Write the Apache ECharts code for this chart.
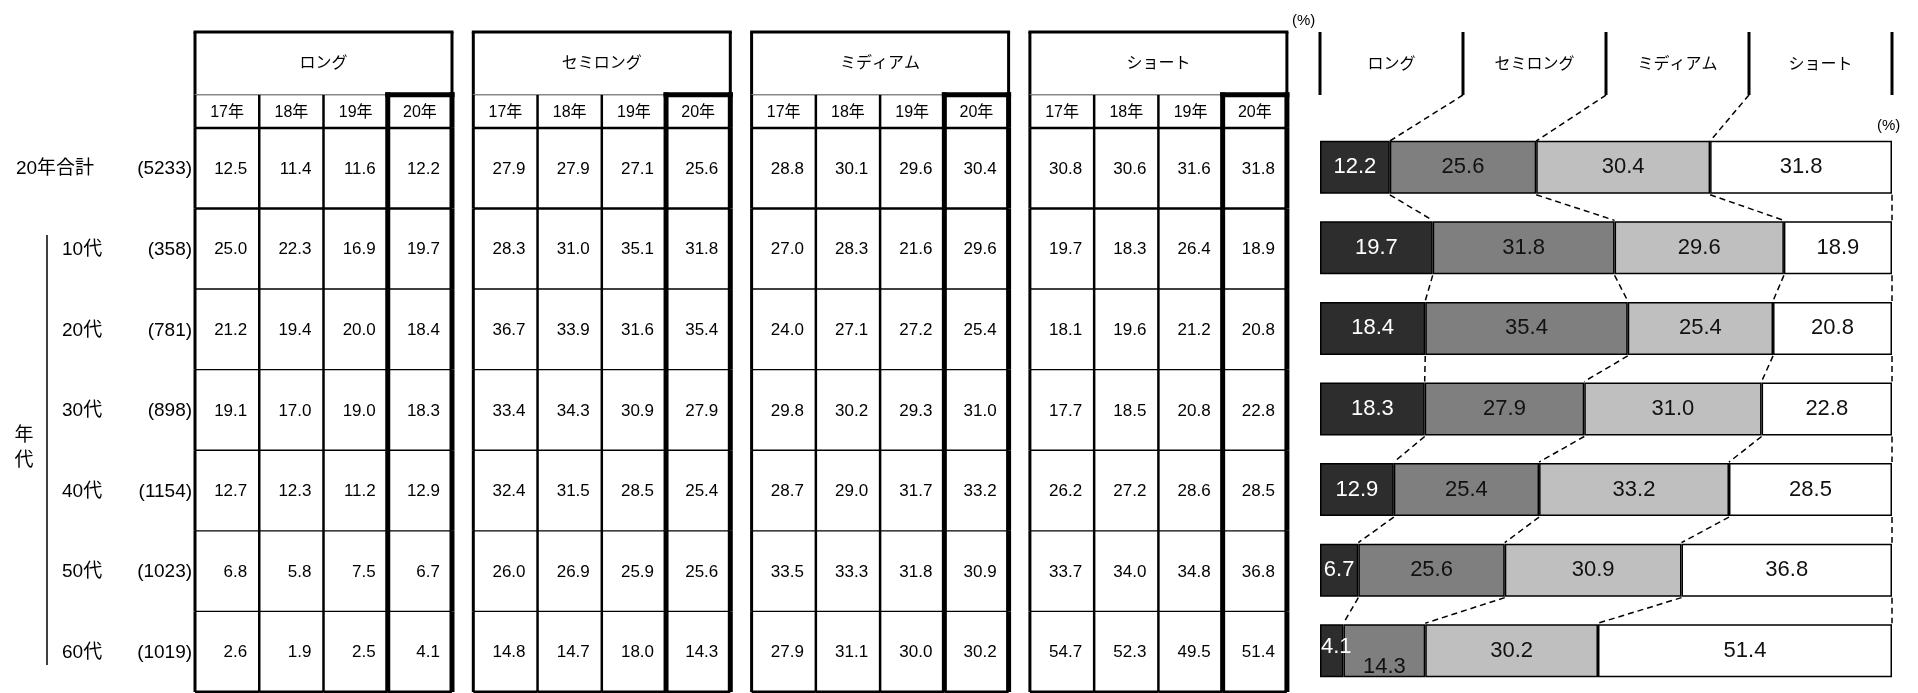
<!DOCTYPE html>
<html>
<head>
<meta charset="UTF-8"/>
<script src="https://cdn.jsdelivr.net/npm/echarts@6/dist/echarts.min.js"></script>
<style type="text/css">
	html, body { margin:0; padding:0; background:#fff; }
	#main { width:1918px; height:693px; }
</style>
</head>
<body>
<div id="main"></div>
<script type="text/javascript">
// ---- data ----
var years = ['17年', '18年', '19年', '20年'];
var styleNames = ['ロング', 'セミロング', 'ミディアム', 'ショート'];
var rowNames = ['20年合計', '10代', '20代', '30代', '40代', '50代', '60代'];
var rowCounts = ['(5233)', '(358)', '(781)', '(898)', '(1154)', '(1023)', '(1019)'];

// rows = rowNames, columns = years
var longVals = [
	[12.5, 11.4, 11.6, 12.2],
	[25.0, 22.3, 16.9, 19.7],
	[21.2, 19.4, 20.0, 18.4],
	[19.1, 17.0, 19.0, 18.3],
	[12.7, 12.3, 11.2, 12.9],
	[6.8, 5.8, 7.5, 6.7],
	[2.6, 1.9, 2.5, 4.1]
];
var semiLongVals = [
	[27.9, 27.9, 27.1, 25.6],
	[28.3, 31.0, 35.1, 31.8],
	[36.7, 33.9, 31.6, 35.4],
	[33.4, 34.3, 30.9, 27.9],
	[32.4, 31.5, 28.5, 25.4],
	[26.0, 26.9, 25.9, 25.6],
	[14.8, 14.7, 18.0, 14.3]
];
var mediumVals = [
	[28.8, 30.1, 29.6, 30.4],
	[27.0, 28.3, 21.6, 29.6],
	[24.0, 27.1, 27.2, 25.4],
	[29.8, 30.2, 29.3, 31.0],
	[28.7, 29.0, 31.7, 33.2],
	[33.5, 33.3, 31.8, 30.9],
	[27.9, 31.1, 30.0, 30.2]
];
var shortVals = [
	[30.8, 30.6, 31.6, 31.8],
	[19.7, 18.3, 26.4, 18.9],
	[18.1, 19.6, 21.2, 20.8],
	[17.7, 18.5, 20.8, 22.8],
	[26.2, 27.2, 28.6, 28.5],
	[33.7, 34.0, 34.8, 36.8],
	[54.7, 52.3, 49.5, 51.4]
];
var allVals = [longVals, semiLongVals, mediumVals, shortVals];
var barColors = ['#2d2d2d', '#7f7f7f', '#bfbfbf', '#ffffff'];

var FONT = '"Liberation Sans", Arial, "Noto Sans CJK JP", sans-serif';
// table rows: header from HEAD_TOP to YEAR_TOP, year row from YEAR_TOP to 0, data rows 0..7
var HEAD_TOP = -1.19, YEAR_TOP = -0.41;
var BAR_HALF = 26.5;
var HEAD_LINE_END = 0.578;

function vline(x, y1, y2, w, color) {
	return { type:'line', shape:{ x1:x, y1:y1, x2:x, y2:y2 }, style:{ stroke:color || '#000', lineWidth:w } };
}
function hline(y, x1, x2, w, color) {
	return { type:'line', shape:{ x1:x1, y1:y, x2:x2, y2:y }, style:{ stroke:color || '#000', lineWidth:w } };
}
function txt(s, x, y, size, align, color) {
	return { type:'text', z2:5, style:{ text:s, x:x, y:y, align:align || 'center', verticalAlign:'middle',
		fontSize:size, fontFamily:FONT, fill:color || '#000' } };
}
function leftW(c) { return c === 0 ? 3 : (c === 3 ? 5 : 2.5); }

// ---- layout of the 4 tables ----
var grids = [], xAxes = [], yAxes = [], series = [];
for (var t = 0; t < 4; t++) {
	grids.push({ left:195 + t * 278.3, width:257, top:32, height:660 });
	xAxes.push({ gridIndex:t, type:'value', min:0, max:4, show:false });
	yAxes.push({ gridIndex:t, type:'value', min:HEAD_TOP, max:7, inverse:true, show:false });
}
// label grid (4), bar grid (5), bar header grid (6)
grids.push({ left:0, width:195, top:32, height:660 });
xAxes.push({ gridIndex:4, type:'value', min:0, max:1, show:false });
yAxes.push({ gridIndex:4, type:'value', min:HEAD_TOP, max:7, inverse:true, show:false });
grids.push({ left:1320, width:572, top:127, height:564 });
xAxes.push({ gridIndex:5, type:'value', min:0, max:100, show:false });
yAxes.push({ gridIndex:5, type:'category', data:rowNames, inverse:true, show:false });
grids.push({ left:1320, width:572, top:32, height:109 });
xAxes.push({ gridIndex:6, type:'value', min:0, max:100, show:false });
yAxes.push({ gridIndex:6, type:'value', min:0, max:1, inverse:true, show:false });

// ---- tables ----
styleNames.forEach(function(name, t) {
	var vals = allVals[t];
	// header cell
	series.push({
		type:'custom', xAxisIndex:t, yAxisIndex:t, silent:true,
		data:[[0, HEAD_TOP]],
		renderItem:function(params, api) {
			var p0 = api.coord([0, HEAD_TOP]), p1 = api.coord([4, YEAR_TOP]);
			return { type:'group', children:[
				hline(p0[1], p0[0] - 1.5, p1[0] + 1.5, 3),
				vline(p0[0], p0[1], p1[1], 3),
				vline(p1[0], p0[1], p1[1], 3),
				txt(name, (p0[0] + p1[0]) / 2, (p0[1] + p1[1]) / 2, 16)
			] };
		}
	});
	// year cells
	series.push({
		type:'custom', xAxisIndex:t, yAxisIndex:t, silent:true,
		data:years.map(function(y, c) { return [c, YEAR_TOP]; }),
		renderItem:function(params, api) {
			var c = params.dataIndex;
			var p0 = api.coord([c, YEAR_TOP]), p1 = api.coord([c + 1, 0]);
			var ch = [];
			ch.push(hline(p1[1], p0[0], p1[0], 2.5));
			if (c === 3) {
				ch.push(vline(p1[0], p0[1] - 2.5, p1[1], 5));
				ch.push(hline(p0[1], p0[0] - 2.5, p1[0] + 2.5, 5));
			} else {
				ch.push(hline(p0[1], p0[0], p1[0], 1.5, '#888'));
			}
			ch.push(vline(p0[0], p0[1] - (c === 3 ? 2.5 : 0), p1[1], leftW(c)));
			ch.push(txt(years[c], (p0[0] + p1[0]) / 2, (p0[1] + p1[1]) / 2 + 1, 16));
			return { type:'group', children:ch };
		}
	});
	// value cells
	var cells = [];
	vals.forEach(function(row, r) {
		row.forEach(function(v, c) { cells.push([c, r, v]); });
	});
	series.push({
		type:'custom', xAxisIndex:t, yAxisIndex:t, silent:true,
		data:cells,
		renderItem:function(params, api) {
			var c = api.value(0), r = api.value(1), v = api.value(2);
			var p0 = api.coord([c, r]), p1 = api.coord([c + 1, r + 1]);
			var ch = [];
			ch.push(hline(p1[1], p0[0], p1[0], r === 0 ? 2.5 : (r === 6 ? 3 : 1.4)));
			ch.push(vline(p0[0], p0[1], p1[1], leftW(c)));
			if (c === 3) ch.push(vline(p1[0], p0[1], p1[1], 5));
			ch.push(txt(v.toFixed(1), p1[0] - 12, (p0[1] + p1[1]) / 2 + 1, 17, 'right'));
			return { type:'group', children:ch };
		}
	});
});

// ---- row labels ----
series.push({
	type:'custom', xAxisIndex:4, yAxisIndex:4, silent:true,
	data:rowNames.map(function(n, r) { return [0, r]; }),
	renderItem:function(params, api) {
		var r = params.dataIndex;
		var pn = api.coord([r === 0 ? 0.082 : 0.318, r + 0.5]);
		var pc = api.coord([0.985, r + 0.5]);
		return { type:'group', children:[
			txt(rowNames[r], pn[0], pn[1] + 1, 19, 'left'),
			txt(rowCounts[r], pc[0], pc[1] + 1, 19, 'right')
		] };
	}
});
series.push({
	type:'custom', xAxisIndex:4, yAxisIndex:4, silent:true,
	data:[[0, 1]],
	renderItem:function(params, api) {
		var a = api.coord([0.241, 1.33]), b = api.coord([0.241, 6.665]);
		var m = api.coord([0.123, 3.98]);
		var label = txt('年\n代', m[0], m[1], 19);
		label.style.lineHeight = 25;
		return { type:'group', children:[ vline(a[0], a[1], b[1], 1.5), label ] };
	}
});

// ---- stacked bars (20年) ----
styleNames.forEach(function(name, k) {
	var data = allVals[k].map(function(row) { return row[3]; });
	if (k === 0) data[6] = { value:data[6], label:{ position:'insideLeft', distance:1, offset:[0, -4] } };
	if (k === 1) data[6] = { value:data[6], label:{ offset:[0, 16] } };
	series.push({
		type:'bar', name:name, stack:'total', xAxisIndex:5, yAxisIndex:5,
		barWidth:53, silent:true,
		data:data,
		itemStyle:{ color:barColors[k], borderColor:'#000', borderWidth:1.5 },
		label:{ show:true, position:'inside', color:k === 0 ? '#fff' : '#111', fontSize:22, fontFamily:FONT,
			formatter:function(p) { return p.value.toFixed(1); } }
	});
});

// cumulative boundaries of the 20年 values
function cumAt(r, k) {
	var s = 0;
	for (var i = 0; i < k; i++) s += allVals[i][r][3];
	return k === 4 ? 100 : s;
}

// dashed connectors between bars
var links = [];
for (var r = 0; r < 6; r++) {
	for (var k = 1; k <= 4; k++) links.push([r, k]);
}
series.push({
	type:'custom', xAxisIndex:5, yAxisIndex:5, silent:true, z:5,
	data:links.map(function(l) { return [cumAt(l[0], l[1]), l[0]]; }),
	renderItem:function(params, api) {
		var l = links[params.dataIndex];
		var a = api.coord([cumAt(l[0], l[1]), l[0]]);
		var b = api.coord([cumAt(l[0] + 1, l[1]), l[0] + 1]);
		return { type:'line', shape:{ x1:a[0], y1:a[1] + BAR_HALF + 1, x2:b[0], y2:b[1] - BAR_HALF - 1 },
			style:{ stroke:'#000', lineWidth:1.5, lineDash:[6, 4] } };
	}
});

// bar section header with connectors to first bar
series.push({
	type:'custom', xAxisIndex:6, yAxisIndex:6, silent:true,
	data:[0, 1, 2, 3, 4].map(function(k) { return [k * 25, 0]; }),
	renderItem:function(params, api) {
		var k = params.dataIndex;
		var a = api.coord([k * 25, 0]), b = api.coord([k * 25, HEAD_LINE_END]);
		var ch = [ vline(a[0], a[1], b[1], 3) ];
		if (k < 4) {
			var m = api.coord([k * 25 + 12.5, HEAD_LINE_END / 2]);
			ch.push(txt(styleNames[k], m[0], m[1] + 1, 16));
		}
		if (k >= 1 && k <= 3) {
			var e = api.coord([cumAt(0, k), 1]);
			ch.push({ type:'line', shape:{ x1:b[0], y1:b[1], x2:e[0], y2:e[1] },
				style:{ stroke:'#000', lineWidth:1.5, lineDash:[6, 4] } });
		}
		return { type:'group', children:ch };
	}
});

var chart = echarts.init(document.getElementById('main'));
chart.setOption({
	backgroundColor:'#fff',
	animation:false,
	title:[
		{ text:'(%)', left:1287, top:8, textStyle:{ fontSize:15, fontWeight:'normal', color:'#000', fontFamily:FONT } },
		{ text:'(%)', left:1872, top:113, textStyle:{ fontSize:15, fontWeight:'normal', color:'#000', fontFamily:FONT } }
	],
	grid:grids,
	xAxis:xAxes,
	yAxis:yAxes,
	series:series
});
</script>
</body>
</html>
